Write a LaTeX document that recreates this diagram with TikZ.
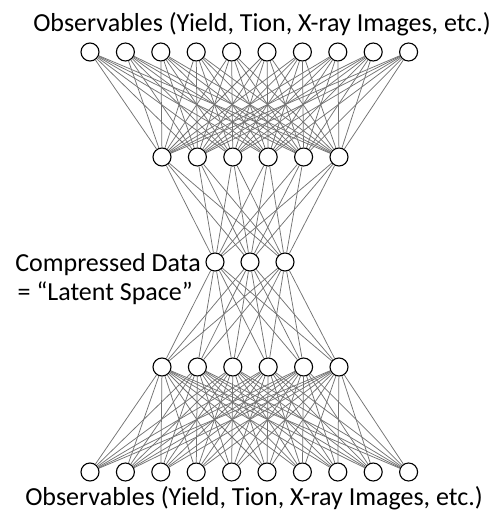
\documentclass[tikz,border=0pt]{standalone}
\usepackage{fontspec}
\setmainfont{Carlito}
\usepackage{tikz}

\begin{document}
\begin{tikzpicture}[x=1pt,y=-1pt,
    main_node/.style={circle,draw,line width=1.1pt,fill=white,inner sep=0pt,minimum size=18pt},
    edge_line/.style={draw=black!55,line width=0.75pt},
    label_text/.style={font=\fontsize{26}{30}\selectfont,inner sep=0pt}]
    \useasboundingbox (0,0) rectangle (494,519);
    % layers
    \foreach \i in {1,...,10} {
        \node[main_node] (t\i) at ({90+35.4*(\i-1)}, 52) {};
        \node[main_node] (b\i) at ({90+35.4*(\i-1)}, 472) {};
    }
    \foreach \i in {1,...,6} {
        \node[main_node] (u\i) at ({162+35.4*(\i-1)}, 157) {};
        \node[main_node] (d\i) at ({162+35.4*(\i-1)}, 367) {};
    }
    \foreach \i in {1,...,3}
        \node[main_node] (m\i) at ({215+35*(\i-1)}, 262) {};
    % connections
    \foreach \i in {1,...,10}
        \foreach \j in {1,...,6} {
            \draw[edge_line] (t\i) -- (u\j);
            \draw[edge_line] (b\i) -- (d\j);
        }
    \foreach \i in {1,...,6}
        \foreach \j in {1,...,3} {
            \draw[edge_line] (u\i) -- (m\j);
            \draw[edge_line] (d\i) -- (m\j);
        }
    % labels
    \node[label_text, anchor=base] (top) at (262, 32) {Observables (Yield, Tion, X-ray Images, etc.)};
    \node[label_text, anchor=base] (bot) at (254, 505) {Observables (Yield, Tion, X-ray Images, etc.)};
    \node[label_text, anchor=base east] (comp) at (201, 271) {Compressed Data};
    \node[label_text, anchor=base east] (lat) at (193, 300) {= ``Latent Space''};
\end{tikzpicture}
\end{document}
